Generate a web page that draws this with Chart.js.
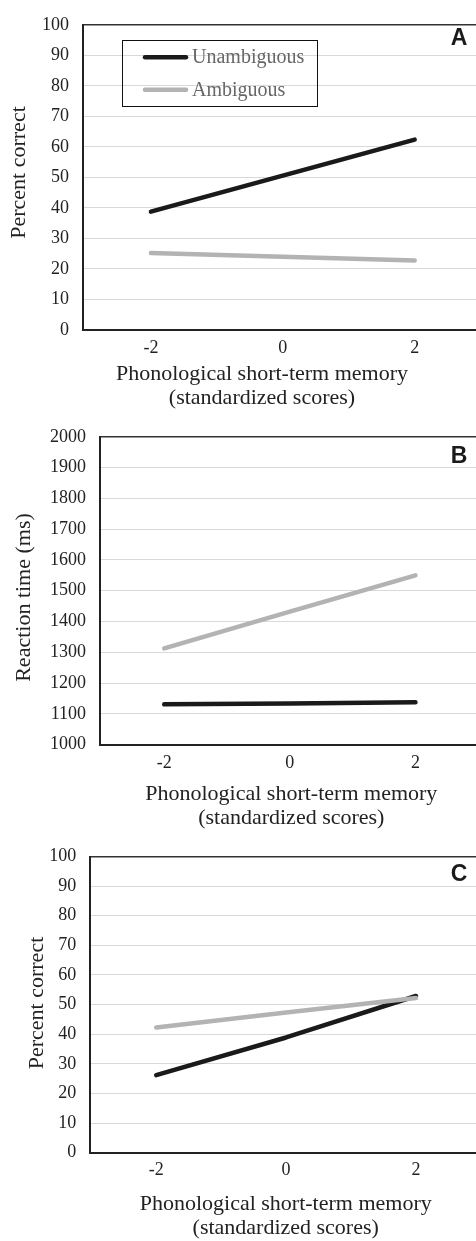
<!DOCTYPE html>
<html><head><meta charset="utf-8">
<script src="https://cdn.jsdelivr.net/npm/chart.js@4/dist/chart.umd.min.js"></script>
<style>
html,body{margin:0;padding:0;background:#fff;overflow:hidden;}
canvas{display:block;}
</style></head><body>
<canvas id="cA" width="476" height="412"></canvas>
<canvas id="cB" width="476" height="420"></canvas>
<canvas id="cC" width="476" height="409"></canvas>
<script>
// ---- data ----
const xValues = [-2, 0, 2];
const xTickLabels = ['-2', '0', '2'];
const seriesNames = ['Unambiguous', 'Ambiguous'];
const percentTicks = [0, 10, 20, 30, 40, 50, 60, 70, 80, 90, 100];
const rtTicks = [1000, 1100, 1200, 1300, 1400, 1500, 1600, 1700, 1800, 1900, 2000];
const panelA_unambiguous = [38.8, 50.6, 62.4];
const panelA_ambiguous = [25.2, 24.0, 22.8];
const panelB_unambiguous = [1131, 1134, 1138];
const panelB_ambiguous = [1313, 1432, 1550];
const panelC_unambiguous = [26.2, 38.9, 52.9];
const panelC_ambiguous = [42.3, 47.3, 52.2];
const xTitleLines = ['Phonological short-term memory', '(standardized scores)'];
const yTitles = ['Percent correct', 'Reaction time (ms)', 'Percent correct'];
const panelLetters = ['A', 'B', 'C'];

// ---- styling ----
const SERIF = "'Liberation Serif','Times New Roman',serif";
const SANS = "'Liberation Sans',Arial,sans-serif";
const TEXT = '#222';
const COLORS = ['#1a1a1a', '#b3b3b3'];

const textPlugin = {
  id: 'panelText',
  afterDraw(chart, args, o) {
    const ctx = chart.ctx;
    ctx.save();
    ctx.fillStyle = TEXT;
    ctx.font = '22px ' + SERIF;
    ctx.textAlign = 'center';
    ctx.textBaseline = 'alphabetic';
    o.xTitle.forEach((t, i) => ctx.fillText(t, o.xTitleX, o.xTitleBase + i * 24));
    ctx.save();
    ctx.translate(o.yTitleBase, o.yTitleY);
    ctx.rotate(-Math.PI / 2);
    ctx.fillText(o.yTitle, 0, 0);
    ctx.restore();
    ctx.font = 'bold 23px ' + SANS;
    ctx.textBaseline = 'middle';
    ctx.fillStyle = '#1a1a1a';
    ctx.fillText(o.letter, o.letterX, o.letterY);
    if (o.legend) {
      const L = o.legend;
      ctx.strokeStyle = '#111';
      ctx.lineWidth = 1;
      ctx.strokeRect(L.x, L.y, L.w, L.h);
      chart.data.datasets.forEach((ds, i) => {
        const y = L.line0 + i * L.gap;
        ctx.strokeStyle = ds.borderColor;
        ctx.lineWidth = 4.5;
        ctx.lineCap = 'round';
        ctx.beginPath();
        ctx.moveTo(L.lx0, y);
        ctx.lineTo(L.lx1, y);
        ctx.stroke();
        ctx.fillStyle = '#666';
        ctx.font = '20px ' + SERIF;
        ctx.textAlign = 'left';
        ctx.textBaseline = 'alphabetic';
        ctx.fillText(ds.label, L.tx, L.base0 + i * L.gap);
      });
    }
    ctx.restore();
  }
};

function makeChart(id, cfg) {
  const ds = (label, vals, color, order) => ({
    label,
    data: xValues.map((x, i) => ({ x, y: vals[i] })),
    borderColor: color,
    backgroundColor: color,
    order
  });
  return new Chart(document.getElementById(id), {
    type: 'line',
    data: { datasets: [
      ds(seriesNames[0], cfg.unamb, COLORS[0], 1),
      ds(seriesNames[1], cfg.amb, COLORS[1], 0)
    ] },
    options: {
      responsive: false,
      animation: false,
      events: [],
      layout: { padding: { top: cfg.padTop, left: 0, right: 0, bottom: 0 } },
      elements: {
        point: { radius: 0 },
        line: { tension: 0, borderWidth: 4.5, borderCapStyle: 'round', borderJoinStyle: 'round' }
      },
      plugins: {
        legend: { display: false },
        tooltip: { enabled: false },
        panelText: cfg.text
      },
      scales: {
        x: {
          type: 'linear',
          min: cfg.xMin, max: cfg.xMax,
          afterBuildTicks: s => { s.ticks = xValues.map(v => ({ value: v })); },
          afterFit: s => { s.height = cfg.xAxisH; },
          grid: { display: true, color: 'rgba(0,0,0,0)', drawTicks: false },
          border: { display: true, color: '#222', width: 2 },
          ticks: {
            padding: cfg.xTickPad, color: TEXT, autoSkip: false, maxRotation: 0,
            font: { family: SERIF, size: 18 },
            callback: (v, i) => xTickLabels[i]
          }
        },
        y: {
          min: cfg.yTicks[0], max: cfg.yTicks[cfg.yTicks.length - 1],
          afterBuildTicks: s => { s.ticks = cfg.yTicks.map(v => ({ value: v })); },
          afterFit: s => { s.width = cfg.yAxisW; },
          grid: {
            drawTicks: false,
            color: c => (c.tick && c.tick.value === cfg.yTicks[cfg.yTicks.length - 1]) ? '#333' : '#d9d9d9',
            lineWidth: c => (c.tick && c.tick.value === cfg.yTicks[cfg.yTicks.length - 1]) ? 1.5 : 1
          },
          border: { display: true, color: '#222', width: 2 },
          ticks: {
            padding: cfg.yTickPad, color: TEXT, autoSkip: false,
            font: { family: SERIF, size: 18 },
            callback: v => String(v)
          }
        }
      }
    },
    plugins: [textPlugin]
  });
}

makeChart('cA', {
  unamb: panelA_unambiguous, amb: panelA_ambiguous, yTicks: percentTicks,
  padTop: 15, yAxisW: 83, xAxisH: 82, xMin: -3.03, xMax: 2.93, yTickPad: 14, xTickPad: 7,
  text: {
    xTitle: xTitleLines, xTitleX: 262, xTitleBase: 380,
    yTitle: yTitles[0], yTitleBase: 25, yTitleY: 172.5,
    letter: panelLetters[0], letterX: 459, letterY: 39,
    legend: { x: 122.5, y: 40.5, w: 195, h: 66, line0: 57.3, gap: 32.5, lx0: 145, lx1: 186, tx: 192, base0: 63.3 }
  }
});
makeChart('cB', {
  unamb: panelB_unambiguous, amb: panelB_ambiguous, yTicks: rtTicks,
  padTop: 22, yAxisW: 100, xAxisH: 87.3, xMin: -3.023, xMax: 2.964, yTickPad: 14, xTickPad: 7.8,
  text: {
    xTitle: xTitleLines, xTitleX: 291.3, xTitleBase: 388,
    yTitle: yTitles[1], yTitleBase: 30, yTitleY: 185.5,
    letter: panelLetters[1], letterX: 459, letterY: 45
  }
});
makeChart('cC', {
  unamb: panelC_unambiguous, amb: panelC_ambiguous, yTicks: percentTicks,
  padTop: 20.7, yAxisW: 90, xAxisH: 88.3, xMin: -3.02, xMax: 2.924, yTickPad: 13.7, xTickPad: 6.8,
  text: {
    xTitle: xTitleLines, xTitleX: 285.7, xTitleBase: 378,
    yTitle: yTitles[2], yTitleBase: 43.3, yTitleY: 171,
    letter: panelLetters[2], letterX: 459, letterY: 43
  }
});
</script>
</body></html>
